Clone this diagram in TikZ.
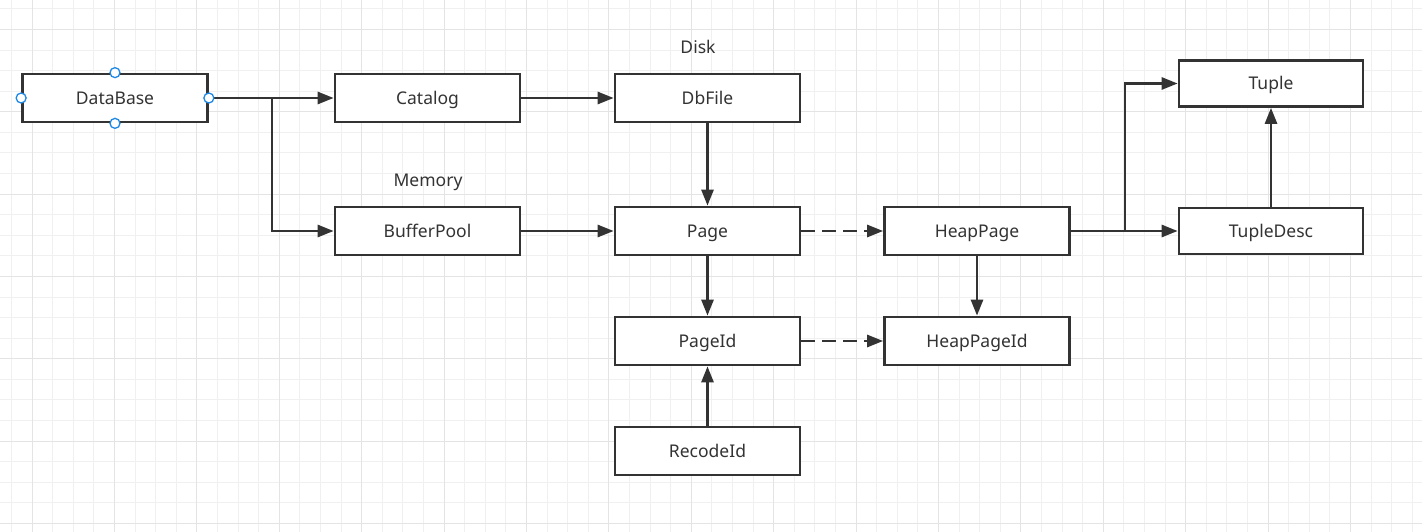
\documentclass[tikz,border=0pt]{standalone}
\usepackage{fontspec}
\setmainfont{Noto Sans}
\usetikzlibrary{arrows.meta,calc}
\definecolor{ink}{HTML}{333333}
\definecolor{gminor}{HTML}{F0F0F0}
\definecolor{gmajor}{HTML}{E4E4E4}
\definecolor{handle}{HTML}{1E88E5}
\tikzset{
  box/.style={draw=ink, line width=2.7pt, fill=white, minimum width=185pt, minimum height=48pt, inner sep=0pt, text=ink, text height=16pt, text depth=3.5pt, font=\fontsize{17.5}{21}\selectfont},
  lbl/.style={text=ink, inner sep=0pt, text height=16pt, text depth=3.5pt, font=\fontsize{17.5}{21}\selectfont},
  arr/.style={draw=ink, line width=2.7pt, -{Triangle[length=16pt,width=12pt]}},
  darr/.style={arr, dash pattern=on 14pt off 7pt},
  hnd/.style={circle, draw=handle, fill=white, line width=1.3pt, minimum size=10pt, inner sep=0pt},
}
\begin{document}
\begin{tikzpicture}[x=1pt,y=-1pt]
\useasboundingbox (0,0) rectangle (1422,532);
\fill[white] (0,0) rectangle (1422,532);
% grid
\foreach \i in {0,...,70} {
  \pgfmathsetmacro{\gx}{11.4+20.6*\i}
  \draw[gminor, line width=1pt] (\gx,0) -- (\gx,532);
}
\foreach \i in {0,...,26} {
  \pgfmathsetmacro{\gy}{8.9+20.58*\i}
  \draw[gminor, line width=1pt] (0,\gy) -- (1422,\gy);
}
\foreach \i in {0,...,17} {
  \pgfmathsetmacro{\gx}{32+82.4*\i}
  \draw[gmajor, line width=1pt] (\gx,0) -- (\gx,532);
}
\foreach \i in {0,...,6} {
  \pgfmathsetmacro{\gy}{29.5+82.3*\i}
  \draw[gmajor, line width=1pt] (0,\gy) -- (1422,\gy);
}
% nodes
\node[box] (db) at (115,98) {DataBase};
\node[box] (cat) at (427.5,98) {Catalog};
\node[box] (dbf) at (707.5,98) {DbFile};
\node[box] (bp) at (427.5,231) {BufferPool};
\node[box] (pg) at (707.5,231) {Page};
\node[box] (hp) at (977,231) {HeapPage};
\node[box] (pid) at (707.5,341) {PageId};
\node[box] (hpid) at (977,341) {HeapPageId};
\node[box] (rid) at (707.5,451) {RecodeId};
\node[box, minimum width=184pt, minimum height=46pt] (tup) at (1271,83.5) {Tuple};
\node[box, minimum width=184pt, minimum height=46pt] (td) at (1271,231) {TupleDesc};
\node[lbl] (disk) at (698,47) {Disk};
\node[lbl] (mem) at (428,180) {Memory};
% connectors
\coordinate (split1) at (272,98);
\coordinate (split2) at (1125,231);
\draw[arr] (db.east) -- (cat.west);
\draw[arr] (split1) |- (bp.west);
\draw[arr] (cat.east) -- (dbf.west);
\draw[arr] (dbf.south) -- (pg.north);
\draw[arr] (bp.east) -- (pg.west);
\draw[darr] (pg.east) -- (hp.west);
\draw[arr] (pg.south) -- (pid.north);
\draw[darr] (pid.east) -- (hpid.west);
\draw[arr] (rid.north) -- (pid.south);
\draw[arr] (hp.south) -- (hpid.north);
\draw[arr] (hp.east) -- (td.west);
\draw[arr] (split2) |- (tup.west);
\draw[arr] (td.north) -- (tup.south);
% handles on DataBase
\node[hnd] (h1) at (db.north) {};
\node[hnd] (h2) at (db.south) {};
\node[hnd] (h3) at (db.west) {};
\node[hnd] (h4) at (db.east) {};
\end{tikzpicture}
\end{document}
